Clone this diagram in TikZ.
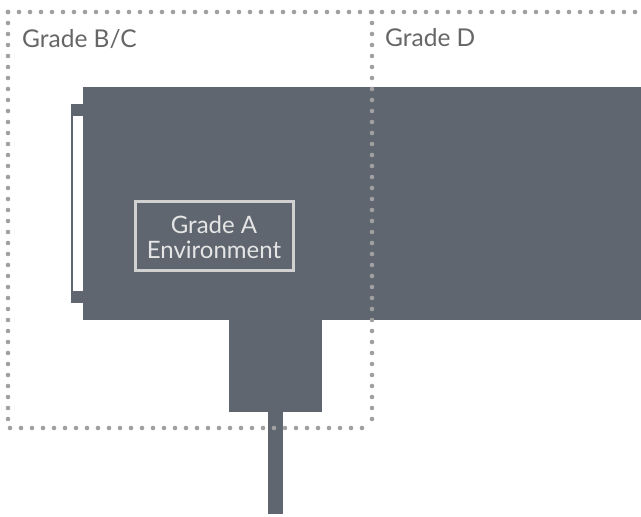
\documentclass[tikz,border=0pt]{standalone}
\usepackage{fontspec}
\setmainfont{Lato}
\usetikzlibrary{positioning}
\definecolor{roomgrey}{HTML}{5F6670}
\definecolor{dotgrey}{HTML}{A0A0A0}
\definecolor{labelgrey}{HTML}{666666}
\tikzset{
  zoneline/.style={dotgrey, line width=4.6pt, line cap=round, dash pattern=on 0pt off 11pt},
  zonelabel/.style={labelgrey, font=\fontsize{24.5}{26}\selectfont, anchor=base west, inner sep=0pt},
}

\begin{document}
\begin{tikzpicture}[x=1pt, y=-1pt]
		%%%%% START %%%%%
		\useasboundingbox (0, 0) rectangle (641, 517);
		
		% glovebox body
		\draw[fill=roomgrey, draw=none] (83, 87) rectangle (641, 320);
		\draw[fill=roomgrey, draw=none] (71, 104) rectangle (83, 303);
		\draw[fill=white, draw=none] (73, 116) rectangle (83, 291);
		
		% lower chamber and pipe
		\draw[fill=roomgrey, draw=none] (229, 320) rectangle (322, 412);
		\draw[fill=roomgrey, draw=none] (268, 412) rectangle (283, 514);
		
		% grade A box
		\draw[line width=3pt, color=black!18] (135, 201) rectangle (293, 270);
		\node[white!90!black, align=center, font=\fontsize{24}{25}\selectfont, inner sep=0pt] (gradeA) at (214, 237) {Grade A\\Environment};
		
		% zone borders
		\draw[zoneline] (8, 12) -- (641, 12);
		\draw[zoneline] (8, 12) -- (8, 428) -- (372, 428);
		\draw[zoneline] (372, 12) -- (372, 428);
		
		\node[zonelabel] (gradeBC) at (22, 47) {Grade B/C};
		\node[zonelabel] (gradeD) at (385, 46) {Grade D};
		
		%%%%% END %%%%%
\end{tikzpicture}
\end{document}
